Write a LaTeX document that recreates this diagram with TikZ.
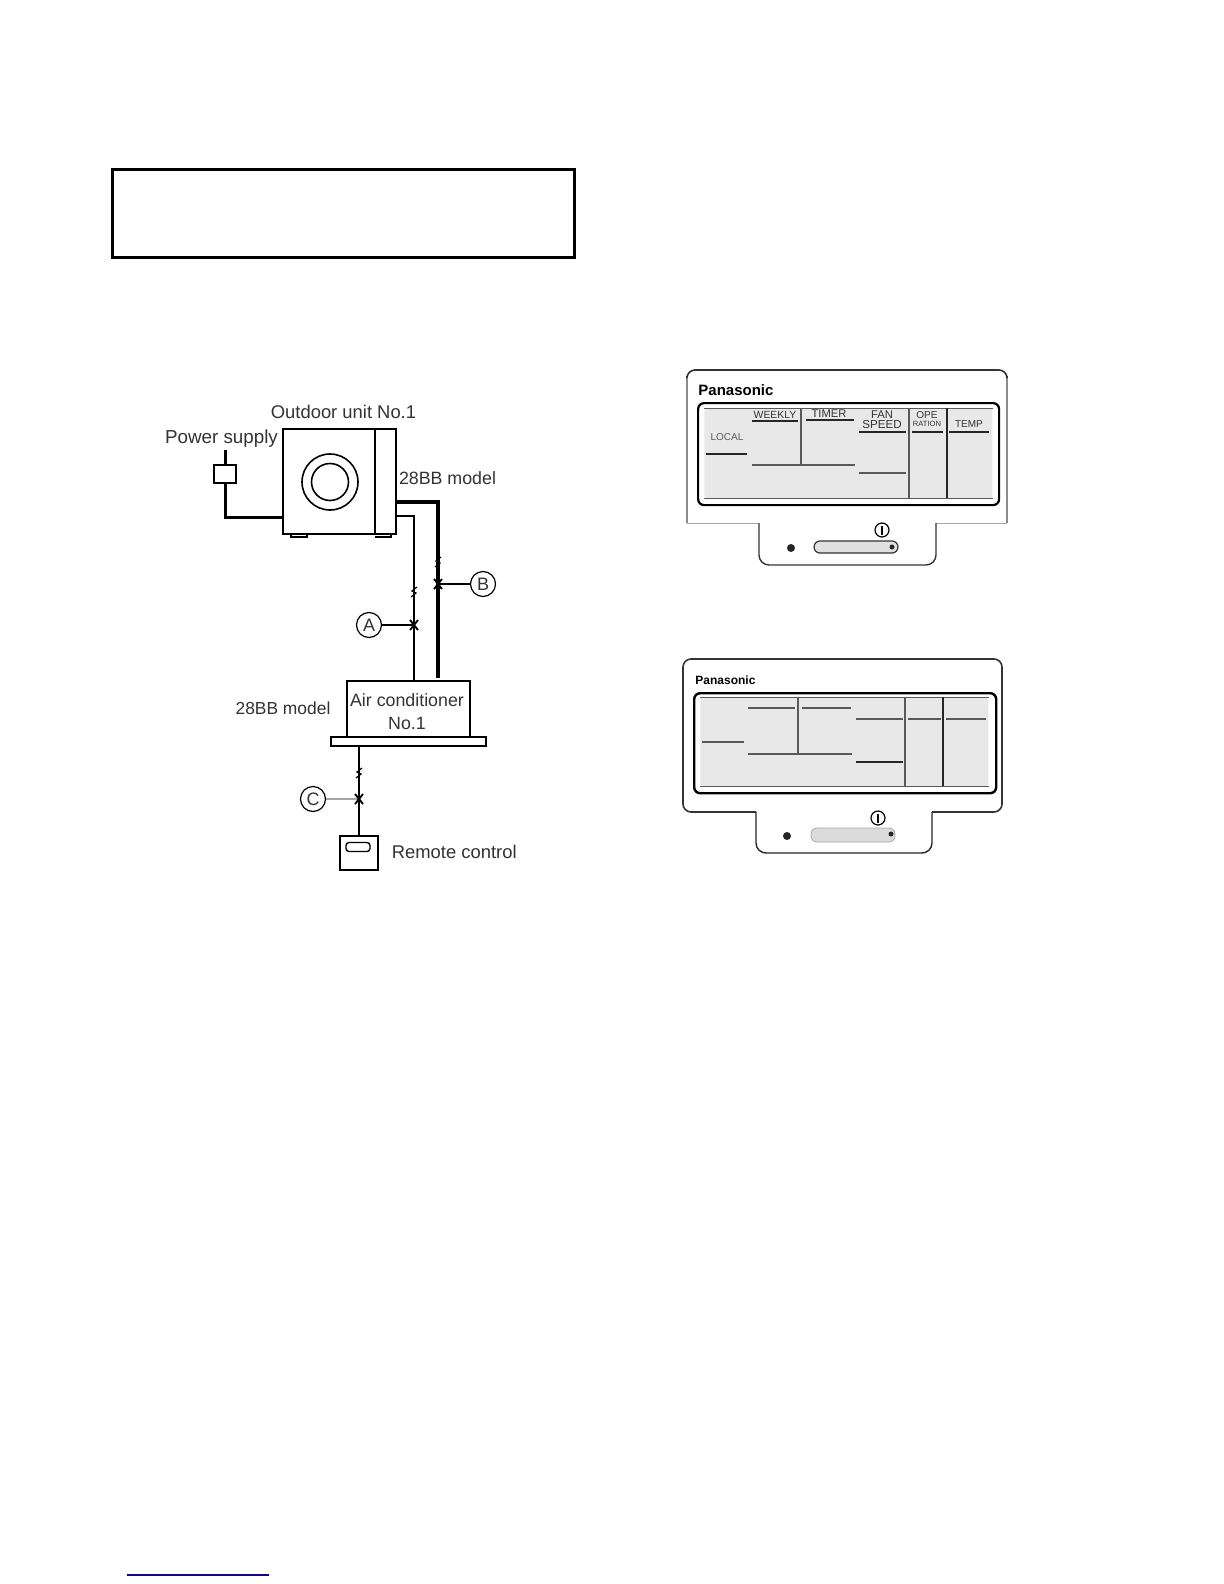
\documentclass[tikz,border=0pt]{standalone}
\usepackage{fontspec}
\setmainfont{Liberation Sans}
\definecolor{txt}{gray}{0.2}
\definecolor{lcd}{gray}{0.91}
\definecolor{soft}{gray}{0.65}
\definecolor{lcdline}{gray}{0.35}
\definecolor{footer}{RGB}{10,10,130}
\tikzset{
  wire/.style={draw=black,line width=1pt},
  thickwire/.style={draw=black,line width=1.9pt},
  lbl/.style={inner sep=0pt,text=txt,font=\fontsize{9.2}{11}\selectfont},
  smalllbl/.style={lbl,font=\fontsize{8.9}{11}\selectfont},
  callout/.style={circle,draw=black,line width=0.6pt,minimum size=12.5pt,inner sep=0pt,text=txt,font=\fontsize{9}{10}\selectfont},
  unitbox/.style={draw=black,line width=0.9pt,inner sep=0pt,fill=white},
  tiny/.style={inner sep=0pt,text=black!80,font=\fontsize{5}{6}\selectfont},
  brand/.style={inner sep=0pt,anchor=west,text=black,font=\bfseries\fontsize{7.5}{8}\selectfont},
  lcdrule/.style={draw=lcdline,line width=0.6pt},
  darkrule/.style={draw=black!85,line width=0.8pt},
  lcdedge/.style={draw=black!65,line width=0.5pt},
  mark x/.style={draw=black,line width=0.9pt}
}
\newcommand{\brk}[2]{\draw[wire,line width=0.6pt] (#1-3,#2+5) -- (#1+2,#2+1) -- (#1-2,#2-1) -- (#1+3,#2-5);}
\newcommand{\xmk}[2]{\draw[mark x] (#1-4,#2-5) -- (#1+4,#2+5) (#1+4,#2-5) -- (#1-4,#2+5);}
\begin{document}
\begin{tikzpicture}[x=0.5pt,y=-0.5pt]
\useasboundingbox[fill=white] (0,0) rectangle (1224,1584);
% top frame
\node[draw=black,line width=1.4pt,inner sep=0pt,anchor=north west,minimum width=231pt,minimum height=44pt] (frame) at (111,168) {};
% outdoor unit
\node[unitbox,anchor=north west,minimum width=56.5pt,minimum height=52.5pt] (outdoor) at (282,428) {};
\draw[wire,line width=0.8pt] (375,428) -- (375,533);
\draw[wire,line width=0.7pt] (291,533) -- (291,537) -- (307,537) -- (307,533);
\draw[wire,line width=0.7pt] (375,537) -- (391,537) -- (391,533);
\node[circle,draw=black,line width=0.8pt,minimum size=28pt,inner sep=0pt] (fanout) at (330,482) {};
\node[circle,draw=black,line width=0.8pt,minimum size=18.5pt,inner sep=0pt] (fanin) at (330,482) {};
\node[lbl] (outlabel) at (343.5,412) {Outdoor unit No.1};
\node[lbl,font=\fontsize{9.4}{11}\selectfont] (powerlabel) at (221.5,439) {Power supply};
\node[unitbox,minimum width=11pt,minimum height=9pt] (power) at (225,474) {};
\coordinate (powertop) at (225,450);
\coordinate (powercorner) at (225,517);
\coordinate (outleft) at (282,517);
\draw[thickwire,line width=1.5pt] (powertop) -- (power.north);
\draw[thickwire,line width=1.5pt] (power.south) -- (powercorner) -- (outleft);
\node[smalllbl] (modelb) at (447.5,478) {28BB model};
% indoor unit
\node[unitbox,anchor=north west,minimum width=61.5pt,minimum height=28pt,align=center] (indoor) at (346,680) {};
\node[smalllbl] (indoorone) at (407,700) {Air conditioner};
\node[smalllbl] (indoortwo) at (407,723) {No.1};
\node[unitbox,anchor=north west,minimum width=77.5pt,minimum height=4.5pt] (base) at (330,736) {};
\node[smalllbl,font=\fontsize{8.7}{11}\selectfont] (modela) at (283,708) {28BB model};
% pipes
\coordinate (thinout) at (396,516);
\coordinate (thincorner) at (414,516);
\coordinate (thinend) at (414,680);
\coordinate (thickout) at (396,502);
\coordinate (thickcorner) at (438,502);
\coordinate (thickend) at (438,678);
\draw[wire,line width=0.8pt] (thinout) -- (thincorner) -- (thinend);
\draw[thickwire] (thickout) -- (thickcorner) -- (thickend);
\brk{438}{562}
\brk{414}{592}
% callouts
\node[callout] (calloutb) at (483,584) {B};
\node[callout] (callouta) at (369,625) {A};
\node[callout] (calloutc) at (313,799) {C};
\coordinate (bx) at (438,584);
\coordinate (ax) at (414,625);
\coordinate (cx) at (359,799);
\draw[wire,line width=0.6pt] (calloutb) -- (bx);
\draw[wire,line width=0.6pt] (callouta) -- (ax);
\draw[draw=soft,line width=0.6pt] (calloutc) -- (cx);
\xmk{438}{584}
\xmk{414}{625}
\xmk{359}{799}
% remote
\node[unitbox,anchor=north west,minimum width=19pt,minimum height=17pt] (remote) at (339,835) {};
\node[draw=black,line width=0.7pt,rounded corners=1.5pt,minimum width=12pt,minimum height=4.5pt,inner sep=0pt] (screen) at (358,847) {};
\coordinate (cabletop) at (359,745);
\draw[wire,line width=0.8pt] (cabletop) -- (remote.north -| cabletop);
\brk{359}{773}
\node[lbl,anchor=west] (remotelabel) at (391.5,852) {Remote control};
% panel 1
\draw[draw=black!45,line width=0.7pt] (687,523) -- (687,376) (1007,376) -- (1007,523);
\draw[draw=black!80,line width=0.8pt,rounded corners=4pt] (687,376) -- (687,370) -- (1007,370) -- (1007,376);
\draw[draw=black!35,line width=0.5pt] (687,523) -- (759,523) (936,523) -- (1007,523);
\draw[draw=black!80,line width=0.7pt,rounded corners=5pt] (759,523) -- (759,565) -- (936,565) -- (936,523);
\node[brand] (brandone) at (698,390) {Panasonic};
\node[draw=black,line width=1.1pt,rounded corners=3pt,anchor=north west,minimum width=150.5pt,minimum height=51pt,inner sep=0pt] (dispone) at (697,402) {};
\node[fill=lcd,rounded corners=1.5pt,anchor=north west,minimum width=144pt,minimum height=45pt,inner sep=0pt] (lcdone) at (704,408) {};
\draw[lcdedge] (lcdone.north west) -- (lcdone.north east) (lcdone.south west) -- (lcdone.south east);
\draw[lcdrule] (801,408) -- (801,465) (752,465) -- (855,465) (859,473) -- (906,473);
\draw[darkrule] (706,454) -- (747,454) (752,421) -- (798,421) (806,420) -- (854,420) (859,432) -- (906,432) (912,432) -- (943,432) (949,432) -- (989,432);
\draw[lcdrule,line width=0.7pt] (909,408) -- (909,498);
\draw[darkrule] (947,408) -- (947,498);
\node[tiny,text=black!65] (localone) at (727,437) {LOCAL};
\node[tiny,font=\fontsize{5.2}{6}\selectfont] (weeklyone) at (775,415) {WEEKLY};
\node[tiny,font=\fontsize{5.6}{7}\selectfont] (timerone) at (829,414) {TIMER};
\node[tiny,font=\fontsize{5.6}{6}\selectfont] (fanone) at (882,415) {FAN};
\node[tiny,font=\fontsize{5.8}{6}\selectfont] (speedone) at (882,425) {SPEED};
\node[tiny] (opeone) at (927,415) {OPE};
\node[tiny,font=\fontsize{3.8}{5}\selectfont] (ratone) at (927,424) {RATION};
\node[tiny] (tempone) at (969,424) {TEMP};
\node[fill=black!12,draw=black!80,line width=0.6pt,rounded corners=3pt,minimum width=42pt,minimum height=6pt,inner sep=0pt] (btnone) at (856,547) {};
\fill[black!85] (892,547) circle (2.5);
\fill[black!85] (791,548) circle (4);
\node[circle,draw=black,line width=0.6pt,minimum size=7pt,inner sep=0pt] (symone) at (882,530) {};
\draw[black,line width=0.7pt] (882,525.5) -- (882,534.5);
% panel 2
\draw[draw=black!80,line width=0.8pt,rounded corners=4pt] (756,812) -- (683,812) -- (683,659) -- (1002,659) -- (1002,812) -- (932,812);
\draw[draw=black!85,line width=0.7pt,rounded corners=5pt] (756,812) -- (756,853) -- (932,853) -- (932,812);
\node[brand,font=\bfseries\fontsize{6}{7}\selectfont] (brandtwo) at (695,680) {Panasonic};
\node[draw=black,line width=1.2pt,rounded corners=3pt,anchor=north west,minimum width=151pt,minimum height=50pt,inner sep=0pt] (disptwo) at (693,692) {};
\node[fill=lcd,rounded corners=1.5pt,anchor=north west,minimum width=144pt,minimum height=44.5pt,inner sep=0pt] (lcdtwo) at (700,697) {};
\draw[lcdedge] (lcdtwo.north west) -- (lcdtwo.north east) (lcdtwo.south west) -- (lcdtwo.south east);
\draw[lcdrule] (702,742) -- (744,742) (748,708) -- (795,708) (802,708) -- (851,708) (748,754) -- (852,754) (856,719) -- (903,719) (908,719) -- (941,719) (946,719) -- (986,719);
\draw[lcdrule] (798,697) -- (798,754);
\draw[darkrule] (856,762) -- (903,762);
\draw[lcdrule,line width=0.7pt] (905,697) -- (905,786);
\draw[darkrule] (943,697) -- (943,786);
\node[fill=black!14,draw=black!35,line width=0.4pt,rounded corners=3pt,minimum width=42pt,minimum height=7pt,inner sep=0pt] (btntwo) at (853,835) {};
\fill[black!85] (891,834) circle (2.5);
\fill[black!85] (787,836) circle (4);
\node[circle,draw=black,line width=0.6pt,minimum size=7pt,inner sep=0pt] (symtwo) at (878,818) {};
\draw[black,line width=0.7pt] (878,813.5) -- (878,822.5);
% footer rule
\coordinate (ruleleft) at (127,1575);
\coordinate (ruleright) at (269,1575);
\draw[draw=footer,line width=0.6pt] (ruleleft) -- (ruleright);
\end{tikzpicture}
\end{document}
